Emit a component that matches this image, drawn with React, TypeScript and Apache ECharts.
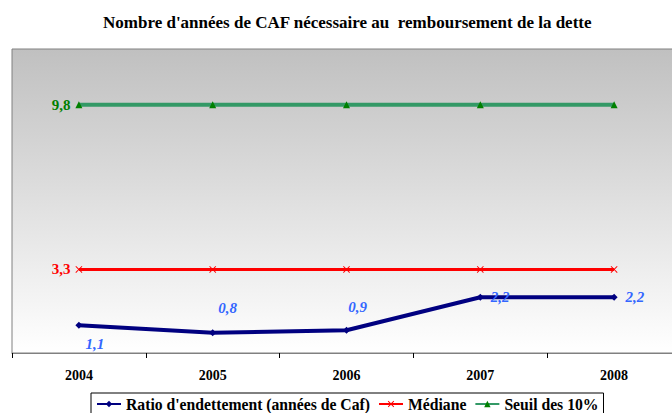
import React, { useEffect, useRef } from "react";
import * as echarts from "echarts";

const years = ["2004", "2005", "2006", "2007", "2008"];
const ratio = [1.1, 0.8, 0.9, 2.2, 2.2];
const mediane = [3.3, 3.3, 3.3, 3.3, 3.3];
const seuil = [9.8, 9.8, 9.8, 9.8, 9.8];
const seriesNames = ["Ratio d'endettement (années de Caf)", "Médiane", "Seuil des 10%"];
const title = "Nombre d'années de CAF nécessaire au  remboursement de la dette";

const FONT = "'Liberation Serif', serif";
const fmt = (v: number) => String(v).replace(".", ",");

// per-point label placement for the ratio series
const ratioLabelPos: any[] = [
  { position: "bottom", distance: 8, offset: [16, 0] },
  { position: "top", distance: 14, offset: [15, 0] },
  { position: "top", distance: 12, offset: [11, 0] },
  { position: "right", distance: 7, offset: [0, 0] },
  { position: "right", distance: 8, offset: [0, 0] },
];

const XMARK = "path://M0,1L1,0L5,4L9,0L10,1L6,5L10,9L9,10L5,6L1,10L0,9L4,5Z";

export default function App() {
  const ref = useRef<HTMLDivElement>(null);
  useEffect(() => {
    document.body.style.margin = "0";
    const chart = echarts.init(ref.current!, undefined, { renderer: "svg" });
    const labelBase = { fontFamily: FONT, fontWeight: "bold", fontSize: 15 };
    chart.setOption({
      animation: false,
      backgroundColor: "#ffffff",
      textStyle: { fontFamily: FONT },
      title: {
        text: title,
        left: 98,
        top: 9,
        textStyle: { fontFamily: FONT, fontWeight: "bold", fontSize: 17, color: "#000" },
      },
      grid: {
        left: 12,
        top: 49,
        width: 669,
        height: 304,
        outerBoundsMode: "none",
        containLabel: false,
        show: true,
        borderColor: "#808080",
        borderWidth: 1,
        backgroundColor: new echarts.graphic.LinearGradient(0, 0, 0, 1, [
          { offset: 0, color: "#c0c0c0" },
          { offset: 1, color: "#ffffff" },
        ]),
      },
      legend: {
        left: 91,
        top: 393,
        padding: [3, 5],
        itemGap: 8,
        itemWidth: 24,
        itemHeight: 8,
        borderColor: "#000",
        borderWidth: 1,
        backgroundColor: "#fff",
        textStyle: { fontFamily: FONT, fontWeight: "bold", fontSize: 15.7, color: "#000" },
        data: seriesNames,
      },
      xAxis: {
        type: "category",
        data: years,
        boundaryGap: true,
        axisLine: { lineStyle: { color: "#808080", width: 1 } },
        axisTick: { show: true, length: 5, lineStyle: { color: "#000" } },
        axisLabel: { ...labelBase, fontSize: 14, color: "#000", margin: 15 },
        splitLine: { show: false },
      },
      yAxis: {
        type: "value",
        min: 0,
        max: 12,
        show: false,
        splitLine: { show: false },
      },
      series: [
        {
          name: seriesNames[0],
          type: "line",
          data: ratio.map((v, i) => ({
            value: v,
            label: { show: true, ...ratioLabelPos[i] },
          })),
          symbol: "diamond",
          symbolSize: 7,
          lineStyle: { color: "#000080", width: 4 },
          itemStyle: { color: "#000080" },
          label: {
            ...labelBase,
            fontStyle: "italic",
            color: "#3366ff",
            formatter: (p: any) => fmt(p.value),
          },
          z: 4,
        },
        {
          name: seriesNames[1],
          type: "line",
          data: mediane.map((v, i) => ({
            value: v,
            label: { show: i === 0 },
          })),
          symbol: XMARK,
          symbolSize: 7,
          lineStyle: { color: "#ff0000", width: 3 },
          itemStyle: { color: "#ff0000" },
          label: {
            ...labelBase,
            position: "left",
            distance: 5,
            color: "#ff0000",
            formatter: (p: any) => fmt(p.value),
          },
          z: 3,
        },
        {
          name: seriesNames[2],
          type: "line",
          data: seuil.map((v, i) => ({
            value: v,
            label: { show: i === 0 },
          })),
          symbol: "triangle",
          symbolSize: 7,
          lineStyle: { color: "#339966", width: 4 },
          itemStyle: { color: "#008000" },
          label: {
            ...labelBase,
            position: "left",
            distance: 5,
            color: "#008000",
            formatter: (p: any) => fmt(p.value),
          },
          z: 3,
        },
      ],
    });
    return () => chart.dispose();
  }, []);
  return <div ref={ref} style={{ width: 672, height: 413 }} />;
}
